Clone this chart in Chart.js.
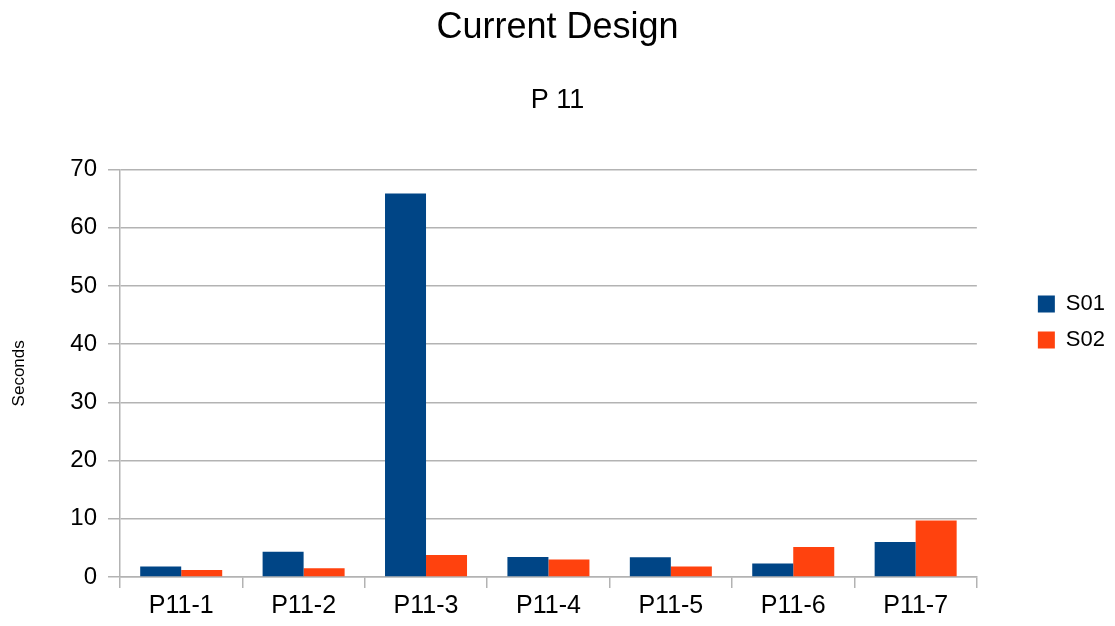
<!DOCTYPE html>
<html>
<head>
<meta charset="utf-8">
<script src="https://cdn.jsdelivr.net/npm/chart.js@4/dist/chart.umd.min.js"></script>
<style>
  html, body { margin: 0; padding: 0; background: #fff; }
  #wrap { width: 1115px; height: 626px; }
</style>
</head>
<body>
<div id="wrap"><canvas id="c" width="1115" height="626"></canvas></div>
<script>
const categories = ['P11-1', 'P11-2', 'P11-3', 'P11-4', 'P11-5', 'P11-6', 'P11-7'];
const s01 = [1.8, 4.35, 65.9, 3.45, 3.4, 2.3, 6.0];
const s02 = [1.2, 1.5, 3.8, 3.0, 1.8, 5.15, 9.7];
const yTicks = [0, 10, 20, 30, 40, 50, 60, 70];

const FONT = "'Liberation Sans', Arial, sans-serif";
const GRID = '#b3b3b3';

new Chart(document.getElementById('c'), {
  type: 'bar',
  data: {
    labels: categories,
    datasets: [
      { label: 'S01', data: s01, backgroundColor: '#004586', borderWidth: 0 },
      { label: 'S02', data: s02, backgroundColor: '#ff420e', borderWidth: 0 }
    ]
  },
  options: {
    responsive: false,
    animation: false,
    devicePixelRatio: 1,
    layout: { padding: { top: 0, right: 0, left: 0, bottom: 0 } },
    datasets: { bar: { categoryPercentage: 0.67, barPercentage: 1.0 } },
    plugins: {
      tooltip: { enabled: false },
      title: {
        display: true,
        text: 'Current Design',
        color: '#000',
        font: { family: FONT, size: 36, weight: 'normal' },
        padding: { top: 6, bottom: 35 }
      },
      subtitle: {
        display: true,
        text: 'P 11',
        color: '#000',
        font: { family: FONT, size: 27, weight: 'normal' },
        padding: { top: 0, bottom: 53 }
      },
      legend: {
        position: 'right',
        align: 'center',
        title: {
          display: true,
          text: ' ',
          font: { family: FONT, size: 10 },
          padding: 3
        },
        labels: {
          color: '#000',
          font: { family: FONT, size: 22 },
          boxWidth: 17,
          boxHeight: 17,
          padding: 14
        }
      }
    },
    scales: {
      x: {
        offset: true,
        grid: {
          offset: true,
          drawOnChartArea: true,
          color: (ctx) => ctx.index === categories.length ? GRID : 'rgba(0,0,0,0)',
          tickColor: GRID,
          tickLength: 11,
          lineWidth: 1.5
        },
        border: { color: GRID, width: 1.5 },
        ticks: {
          color: '#000',
          font: { family: FONT, size: 25 },
          padding: 3
        },
        afterFit: (scale) => { scale.height = 49; }
      },
      y: {
        min: 0,
        max: 70,
        afterBuildTicks: (scale) => { scale.ticks = yTicks.map(v => ({ value: v })); },
        grid: {
          color: GRID,
          tickColor: GRID,
          tickLength: 12,
          lineWidth: 1.5
        },
        border: { color: GRID, width: 1.5 },
        ticks: {
          color: '#000',
          font: { family: FONT, size: 24 },
          padding: 11
        },
        title: {
          display: true,
          text: 'Seconds',
          color: '#000',
          font: { family: FONT, size: 17 },
          padding: { top: 9, bottom: 0 }
        },
        afterFit: (scale) => { scale.width = 120; }
      },
      gap: {
        type: 'linear',
        position: 'right',
        display: true,
        grid: { display: false },
        border: { display: false },
        ticks: { display: false },
        afterFit: (scale) => { scale.width = 47; }
      }
    }
  }
});
</script>
</body>
</html>
